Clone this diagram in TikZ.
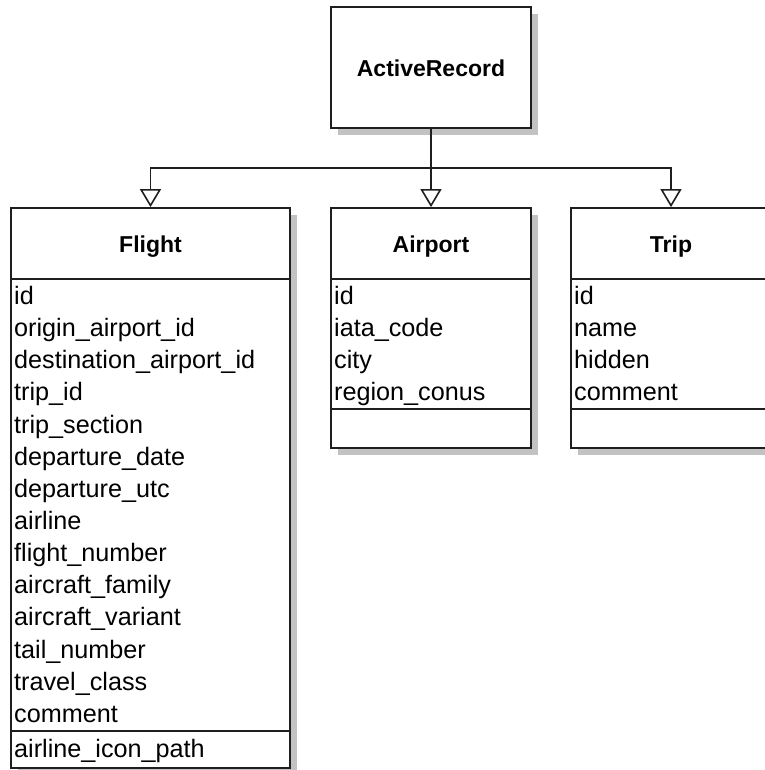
\documentclass[tikz,border=0pt]{standalone}
\usepackage{fontspec}
\setmainfont{Liberation Sans}
\usetikzlibrary{arrows.meta,shadows}
\begin{document}
\begin{tikzpicture}[x=1pt,y=-1pt,
  classbox/.style={draw=black!88, line width=1.8pt, fill=white, rectangle, inner sep=0pt,
    drop shadow={shadow xshift=7pt, shadow yshift=-7pt, fill=black!24, opacity=1}},
  ttl/.style={anchor=base, inner sep=0pt, font=\fontsize{23}{27}\selectfont\bfseries},
  attr/.style={anchor=base west, inner sep=0pt, font=\fontsize{25.2}{28}\selectfont},
  sep/.style={draw=black!88, line width=1.8pt},
  conn/.style={draw=black!88, line width=1.8pt},
  gen/.style={conn, -{Triangle[open, length=18pt, width=21pt, line width=1.6pt]}}]
\useasboundingbox (0,0) rectangle (764,770);

% boxes
\node[classbox, minimum width=200pt, minimum height=121pt] (ar) at (431,67.5) {};
\node[classbox, minimum width=279pt, minimum height=560pt] (flight) at (150.5,488) {};
\node[classbox, minimum width=200pt, minimum height=240pt] (airport) at (431,328) {};
\node[classbox, minimum width=200pt, minimum height=240pt] (trip) at (671,328) {};

% compartment separators
\foreach \b in {flight,airport,trip}
  \draw[sep] ([yshift=-72pt]\b.north west) -- ([yshift=-72pt]\b.north east);
\draw[sep] ([yshift=38pt]flight.south west) -- ([yshift=38pt]flight.south east);
\draw[sep] ([yshift=40pt]airport.south west) -- ([yshift=40pt]airport.south east);
\draw[sep] ([yshift=40pt]trip.south west) -- ([yshift=40pt]trip.south east);

% titles
\node[ttl] (arT) at (431,77) {ActiveRecord};
\node[ttl] (flightT) at (150.5,252) {Flight};
\node[ttl] (airportT) at (431,252) {Airport};
\node[ttl] (tripT) at (671,252) {Trip};

% attributes
\foreach \t [count=\i] in {id,origin\_airport\_id,destination\_airport\_id,trip\_id,trip\_section,departure\_date,departure\_utc,airline,flight\_number,aircraft\_family,aircraft\_variant,tail\_number,travel\_class,comment}
  \node[attr] (f\i) at (14,{280+32.14*(\i-0.5)+8.5}) {\t};
\node[attr] (fm1) at (14,757) {airline\_icon\_path};

\foreach \t [count=\i] in {id,iata\_code,city,region\_conus}
  \node[attr] (a\i) at (334,{280+32*(\i-0.5)+8.5}) {\t};

\foreach \t [count=\i] in {id,name,hidden,comment}
  \node[attr] (t\i) at (574,{280+32*(\i-0.5)+8.5}) {\t};

% connectors
\coordinate (bus) at (431,168);
\draw[conn] (ar.south) -- (bus);
\draw[gen] (bus) -| (flight.north);
\draw[gen] (bus) -- (airport.north);
\draw[gen] (bus) -| (trip.north);
\end{tikzpicture}
\end{document}
